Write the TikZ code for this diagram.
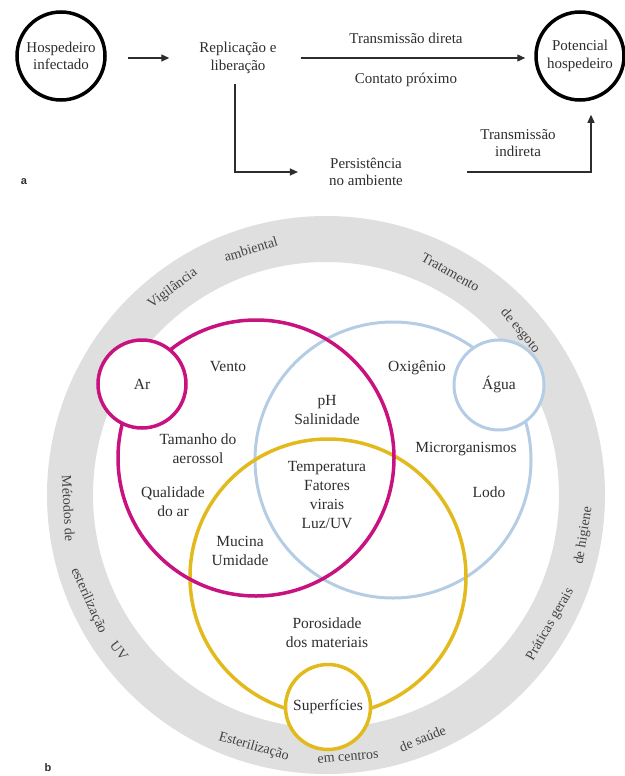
\documentclass[tikz,border=0pt]{standalone}
\usepackage{fontspec}
\setmainfont{Liberation Serif}
\setsansfont{Liberation Sans}
\usetikzlibrary{arrows.meta,calc}
\definecolor{mag}{RGB}{200,18,128}
\definecolor{gold}{RGB}{226,186,30}
\definecolor{lblue}{RGB}{180,205,228}
\definecolor{ringgray}{RGB}{223,223,223}
\definecolor{txt}{RGB}{45,45,45}
\newcommand\ringword[5]{\node[ringtxt, rotate=#3] (#4) at ($(C)+(#1:#5pt)$) {#2};}
\begin{document}
\begin{tikzpicture}[x=1pt,y=-1pt,
  lbl/.style={font=\fontsize{15.5}{19}\selectfont, text=txt, align=center, inner sep=1pt},
  albl/.style={font=\fontsize{15}{17.5}\selectfont, text=txt, align=center, inner sep=2pt},
  ringtxt/.style={font=\fontsize{14}{16}\selectfont, text=txt!90, inner sep=0pt},
  hostc/.style={draw=black, line width=3.5pt, circle, minimum size=88pt, inner sep=0pt, albl},
  arr/.style={draw=txt, line width=1.3pt, -{Triangle[length=8pt,width=7pt]}},
  bigc/.style={circle, minimum size=276pt, inner sep=0pt, line width=3.5pt, draw=#1},
  smallc/.style={circle, minimum size=88pt, inner sep=0pt, line width=3.5pt, draw=#1, fill=white, lbl},
  panel/.style={font=\sffamily\bfseries\fontsize{11}{13}\selectfont, text=txt}
]
\useasboundingbox (0,0) rectangle (624,776);

% ---------- part a ----------
\node[hostc] (h1) at (61,56) {Hospedeiro\\infectado};
\node[albl] (rep) at (238,58) {Replicação e\\liberação};
\node[hostc] (pot) at (580,56) {Potencial\\hospedeiro};
\node[albl] (pers) at (366,172) {Persistência\\no ambiente};
\node[albl] (td) at (406,38) {Transmissão direta};
\node[albl] (cp) at (406,80) {Contato próximo};
\node[albl] (ti) at (518,143) {Transmissão\\indireta};
\node[panel] (la) at (24,182) {a};

\draw[arr, shorten <=21pt, shorten >=28pt] (h1.east |- rep.west) -- (rep.west);
\draw[arr, shorten <=22pt, shorten >=9pt] (rep.east) -- (pot.west |- rep.east);
\draw[arr, shorten <=8pt, shorten >=29pt] ([xshift=-3pt]rep.south) |- (pers.west);
\draw[arr, shorten <=62pt, shorten >=13pt] (pers.east) -| ([xshift=11pt]pot.south);

% ---------- part b ----------
\coordinate (C) at (326,495);
\fill[ringgray, even odd rule] (C) circle[radius=279pt] (C) circle[radius=233pt];

\ringword{126.6}{Vigilância}{36.6}{rw1}{257}
\ringword{107}{ambiental}{17}{rw2}{257}
\ringword{60.8}{Tratamento}{-29.2}{rw3}{255}
\ringword{40.2}{de esgoto}{-49.8}{rw4}{254}
\ringword{183}{Métodos de}{-87}{rw5}{258}
\ringword{204}{esterilização}{-66}{rw6}{260}
\ringword{217}{UV}{-53}{rw7}{259}
\ringword{254}{Esterilização}{-16}{rw8}{262}
\ringword{274.8}{em centros}{4.8}{rw9}{263}
\ringword{291.6}{de saúde}{21.6}{rw10}{262}
\ringword{330}{Práticas gerais}{60}{rw11}{259}
\ringword{351}{de higiene}{81}{rw12}{261}

\node[bigc=lblue, line width=3pt] (B) at (393,460) {};
\node[bigc=gold] (Y) at (328,577) {};
\node[bigc=mag] (M) at (256,458) {};

\node[smallc=mag] (ar) at (142,384) {Ar};
\node[smallc=lblue, line width=3pt, minimum size=90pt] (agua) at (499,385) {Água};
\node[smallc=gold, minimum size=85pt] (sup) at (328,707) {Superfícies};

\node[lbl] (vento) at (228,367) {Vento};
\node[lbl] (oxi) at (417,368) {Oxigênio};
\node[lbl] (ph) at (327,410) {pH\\Salinidade};
\node[lbl] (tam) at (198,449) {Tamanho do\\aerossol};
\node[lbl] (qual) at (173,502) {Qualidade\\do ar};
\node[lbl] (temp) at (327,495) {Temperatura\\Fatores\\virais\\Luz/UV};
\node[lbl] (micro) at (466,449) {Microrganismos};
\node[lbl] (lodo) at (489,492) {Lodo};
\node[lbl] (muc) at (240,551) {Mucina\\Umidade};
\node[lbl] (poro) at (327,633) {Porosidade\\dos materiais};
\node[panel] (lb) at (48,768) {b};
\end{tikzpicture}
\end{document}
